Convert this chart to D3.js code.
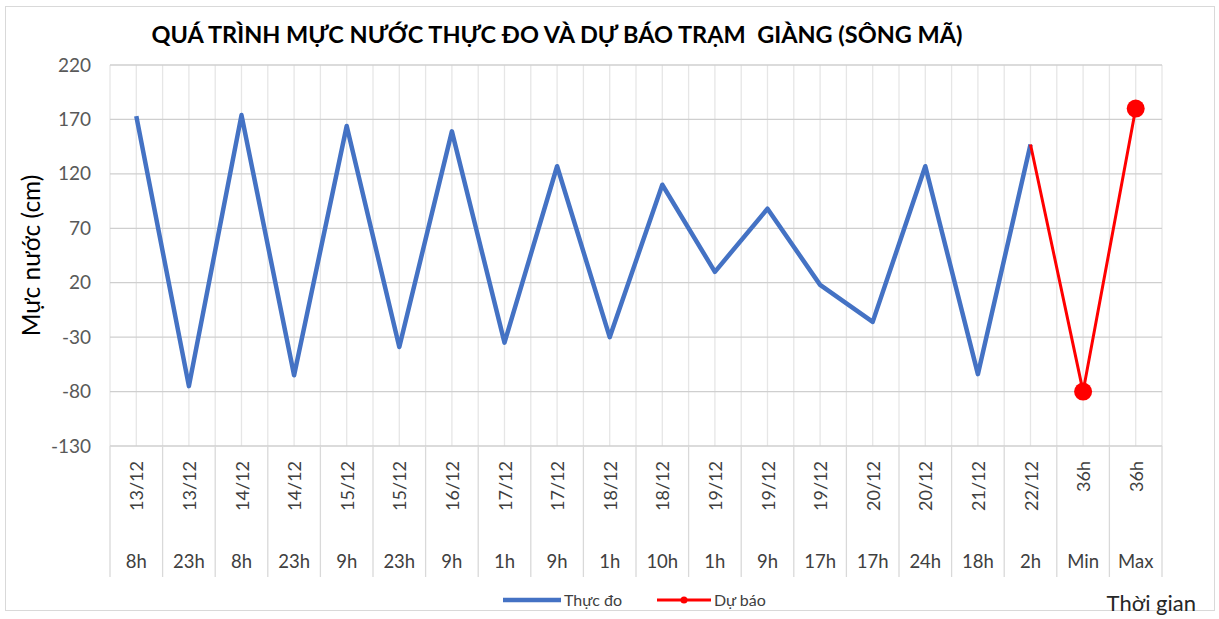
<!DOCTYPE html>
<html>
<head>
<meta charset="utf-8">
<script src="https://cdn.jsdelivr.net/npm/d3@7"></script>
<style>
  body { margin: 0; background: #fff; }
  svg { font-family: Lato, "Liberation Sans", sans-serif; }
</style>
</head>
<body>
<svg id="chart" width="1219" height="619"></svg>
<script>
// category labels (two levels: date / hour)
var dates = ["13/12", "13/12", "14/12", "14/12", "15/12", "15/12", "16/12", "17/12", "17/12", "18/12",
             "18/12", "19/12", "19/12", "19/12", "20/12", "20/12", "21/12", "22/12", "36h", "36h"];
var hours = ["8h", "23h", "8h", "23h", "9h", "23h", "9h", "1h", "9h", "1h",
             "10h", "1h", "9h", "17h", "17h", "24h", "18h", "2h", "Min", "Max"];
// observed water level (cm), null where no data
var thucDo = [173, -75, 174, -65, 164, -39, 159, -35, 127, -30,
              110, 30, 88, 18, -16, 127, -64, 147, null, null];
// forecast, starts from last observed value
var duBao = [null, null, null, null, null, null, null, null, null, null,
             null, null, null, null, null, null, null, 147, -80, 180];
var yTicks = [-130, -80, -30, 20, 70, 120, 170, 220];

var svg = d3.select("#chart");
var pLeft = 110, pRight = 1162, pTop = 65, pBottom = 446;

var x = d3.scaleBand().domain(d3.range(dates.length)).range([pLeft, pRight]).padding(0);
var y = d3.scaleLinear().domain([-130, 220]).range([pBottom, pTop]);
var cx = function (i) { return x(i) + x.bandwidth() / 2; };

// outer frame
svg.append("rect")
  .attr("x", 5.5).attr("y", 6.5).attr("width", 1209).attr("height", 604)
  .attr("fill", "#fff").attr("stroke", "#d9d9d9");

// title
svg.append("text")
  .attr("x", 557).attr("y", 43)
  .attr("text-anchor", "middle")
  .attr("font-size", 23.5).attr("font-weight", "bold").attr("fill", "#000")
  .style("white-space", "pre")
  .text("QUÁ TRÌNH MỰC NƯỚC THỰC ĐO VÀ DỰ BÁO TRẠM  GIÀNG (SÔNG MÃ)");

// vertical grid: at category boundaries and centres
var vLines = [];
dates.forEach(function (d, i) {
  vLines.push(x(i));
  vLines.push(cx(i));
});
vLines.push(pRight);
svg.append("g").selectAll("line").data(vLines).join("line")
  .attr("x1", function (d) { return d; }).attr("x2", function (d) { return d; })
  .attr("y1", pTop).attr("y2", pBottom)
  .attr("stroke", "#e6e6e6").attr("stroke-width", 1.3);

// horizontal grid
svg.append("g").selectAll("line").data(yTicks).join("line")
  .attr("x1", pLeft).attr("x2", pRight)
  .attr("y1", function (d) { return y(d); }).attr("y2", function (d) { return y(d); })
  .attr("stroke", "#cfcfcf").attr("stroke-width", 1.3);

// y axis labels (plain hyphen for negatives, as in the original)
var yAxis = d3.axisLeft(y).tickValues(yTicks).tickSize(0).tickPadding(19)
  .tickFormat(function (d) { return String(d); });
var gy = svg.append("g").attr("transform", "translate(" + pLeft + ",0)").call(yAxis);
gy.select(".domain").remove();
gy.selectAll("text").attr("font-size", 19).attr("fill", "#595959")
  .attr("font-family", "Lato, sans-serif");

// y title
svg.append("text")
  .attr("transform", "translate(40," + ((pTop + pBottom) / 2) + ") rotate(-90)")
  .attr("text-anchor", "middle")
  .attr("font-size", 24.5).attr("fill", "#000")
  .text("Mực nước (cm)");

// category separators below the plot
var sep = dates.map(function (d, i) { return x(i); }).concat([pRight]);
svg.append("g").selectAll("line").data(sep).join("line")
  .attr("x1", function (d) { return d; }).attr("x2", function (d) { return d; })
  .attr("y1", pBottom).attr("y2", 577)
  .attr("stroke", "#d9d9d9").attr("stroke-width", 1.3);

// x labels
var xl = svg.append("g");
xl.selectAll("text.date").data(dates).join("text")
  .attr("class", "date")
  .attr("transform", function (d, i) {
    return "translate(" + (cx(i) + 7) + ",461) rotate(-90)";
  })
  .attr("text-anchor", "end")
  .attr("font-size", 18).attr("fill", "#404040")
  .text(function (d) { return d; });
xl.selectAll("text.hour").data(hours).join("text")
  .attr("class", "hour")
  .attr("x", function (d, i) { return cx(i); })
  .attr("y", 568)
  .attr("text-anchor", "middle")
  .attr("font-size", 18.5).attr("fill", "#404040")
  .text(function (d) { return d; });

// lines
var line = d3.line()
  .defined(function (d) { return d != null; })
  .x(function (d, i) { return cx(i); })
  .y(function (d) { return y(d); });

svg.append("path").datum(thucDo)
  .attr("d", line).attr("fill", "none")
  .attr("stroke", "#4472c4").attr("stroke-width", 4.5)
  .attr("stroke-linejoin", "round");

svg.append("path").datum(duBao)
  .attr("d", line).attr("fill", "none")
  .attr("stroke", "#ff0000").attr("stroke-width", 3)
  .attr("stroke-linejoin", "round");

// forecast markers (only the forecast points themselves)
var marks = duBao.map(function (d, i) { return { v: d, i: i }; })
  .filter(function (d) { return d.v != null && thucDo[d.i] == null; });
svg.append("g").selectAll("circle").data(marks).join("circle")
  .attr("cx", function (d) { return cx(d.i); })
  .attr("cy", function (d) { return y(d.v); })
  .attr("r", 9).attr("fill", "#ff0000");

// legend
var lg = svg.append("g");
lg.append("line").attr("x1", 503).attr("x2", 561).attr("y1", 600).attr("y2", 600)
  .attr("stroke", "#4472c4").attr("stroke-width", 4.5);
lg.append("text").attr("x", 564).attr("y", 606).attr("font-size", 16).attr("fill", "#404040").text("Thực đo");
lg.append("line").attr("x1", 657).attr("x2", 711).attr("y1", 600).attr("y2", 600)
  .attr("stroke", "#ff0000").attr("stroke-width", 3);
lg.append("circle").attr("cx", 684).attr("cy", 600).attr("r", 3.5).attr("fill", "#ff0000");
lg.append("text").attr("x", 714).attr("y", 606).attr("font-size", 16).attr("fill", "#404040").text("Dự báo");

// x title
svg.append("text")
  .attr("x", 1196).attr("y", 611)
  .attr("text-anchor", "end")
  .attr("font-size", 22).attr("fill", "#262626")
  .text("Thời gian");
</script>
</body>
</html>
